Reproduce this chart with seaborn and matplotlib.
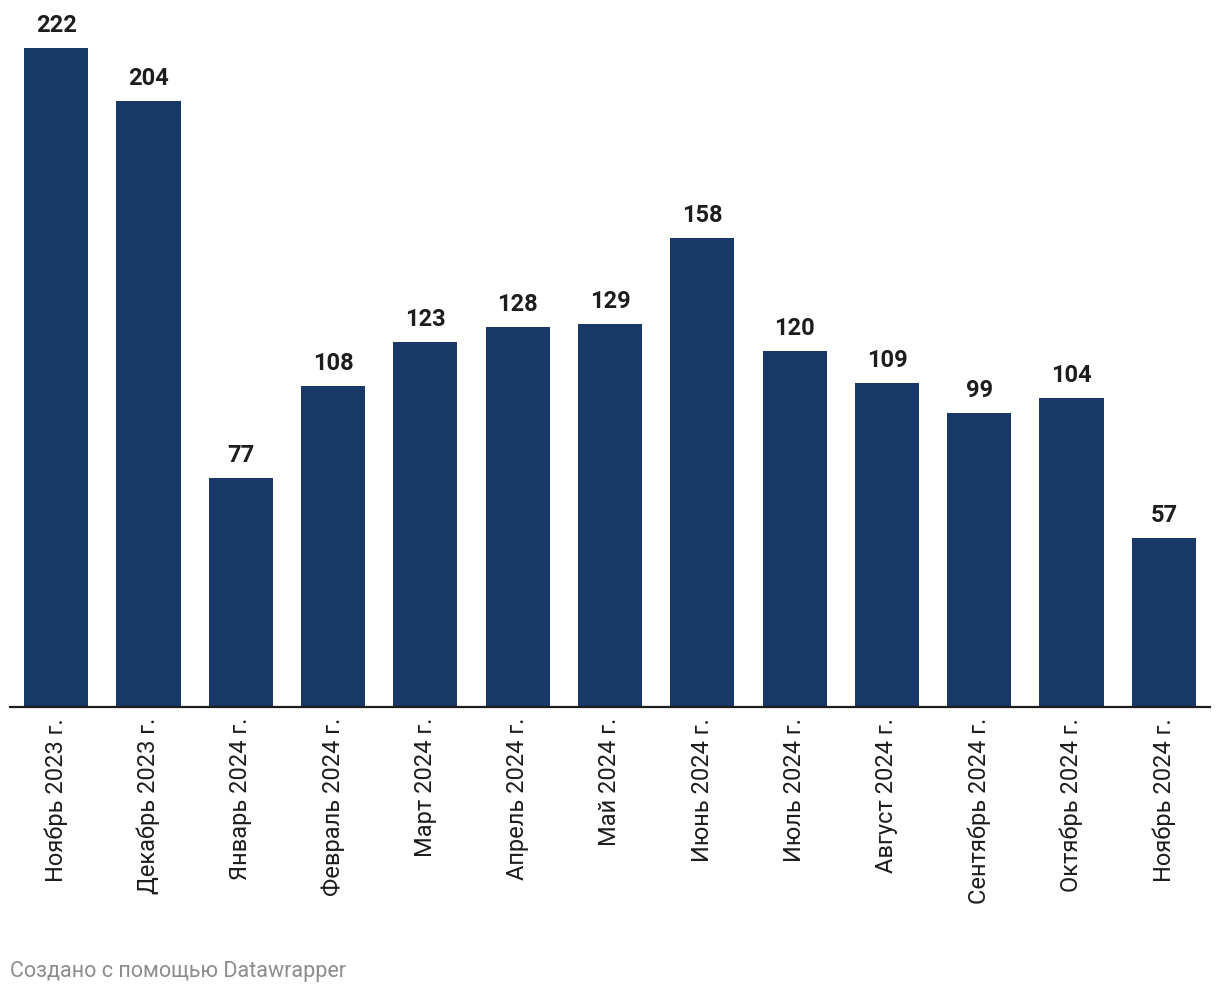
import matplotlib
matplotlib.use("Agg")
import matplotlib.pyplot as plt
import seaborn as sns
import pandas as pd

# Data
months = [
    "Ноябрь 2023 г.", "Декабрь 2023 г.", "Январь 2024 г.", "Февраль 2024 г.",
    "Март 2024 г.", "Апрель 2024 г.", "Май 2024 г.", "Июнь 2024 г.",
    "Июль 2024 г.", "Август 2024 г.", "Сентябрь 2024 г.", "Октябрь 2024 г.",
    "Ноябрь 2024 г.",
]
values = [222, 204, 77, 108, 123, 128, 129, 158, 120, 109, 99, 104, 57]

BAR_COLOR = "#183868"

sns.set_style("white")
plt.rcParams["font.family"] = ["Roboto", "DejaVu Sans"]

df = pd.DataFrame({"month": months, "value": values})

fig = plt.figure(figsize=(12.2, 9.94), dpi=100)
ax = fig.add_axes([10 / 1220, 1 - 707 / 994, 1200 / 1220, 697 / 994])

sns.barplot(data=df, x="month", y="value", color=BAR_COLOR, width=0.695,
            saturation=1, linewidth=0, ax=ax)

ax.set_ylim(0, 234.8)
ax.set_xlim(-0.5, len(months) - 0.5)

# value labels above bars
for i, v in enumerate(values):
    ax.annotate(str(v), (i, v), xytext=(0, 8), textcoords="offset points",
                ha="center", va="bottom", fontsize=17, fontweight="bold",
                color="#1d1d1d")

ax.set_xlabel("")
ax.set_ylabel("")
ax.set_yticks([])
for side in ["top", "right", "left"]:
    ax.spines[side].set_visible(False)
ax.spines["bottom"].set_color("#1d1d1d")
ax.spines["bottom"].set_linewidth(1.6)
ax.tick_params(axis="x", length=0, pad=8)
plt.setp(ax.get_xticklabels(), rotation=90, fontsize=17, color="#1d1d1d",
         va="top", ha="center")

fig.text(10 / 1220, 1 - 971 / 994, "Создано с помощью Datawrapper",
         fontsize=15.5, color="#8c8c8c", ha="left", va="center")

fig.savefig("out.png", dpi=100)
